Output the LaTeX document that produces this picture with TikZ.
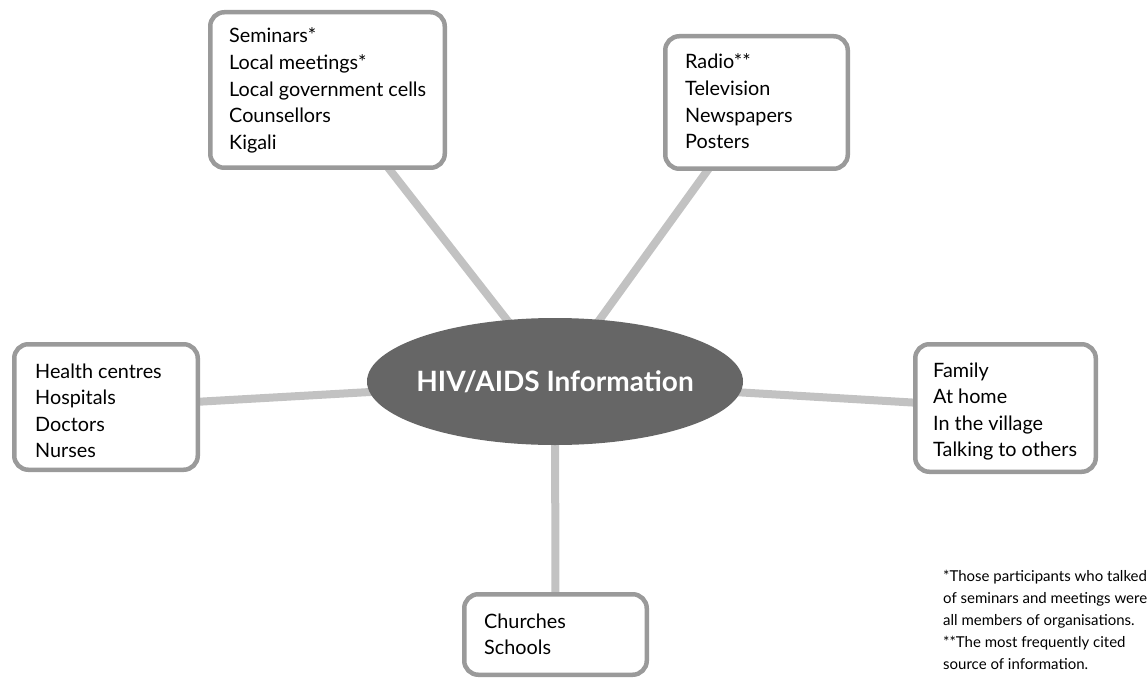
\documentclass[tikz,border=0pt]{standalone}
\usepackage{fontspec}
\setmainfont{Lato}
\usetikzlibrary{backgrounds,shapes.geometric}
\definecolor{boxgray}{HTML}{9A9A9A}
\definecolor{linegray}{HTML}{C2C2C2}
\definecolor{ellgray}{HTML}{666666}
\tikzset{
  infobox/.style={draw=boxgray, line width=4.5pt, rounded corners=14pt, fill=white,
    inner sep=0pt, anchor=center},
  boxtext/.style={align=left, anchor=base west, inner sep=0pt,
    font=\fontsize{19.8}{26.6}\selectfont},
  conn/.style={draw=linegray, line width=8pt},
  hub/.style={ellipse, fill=ellgray, inner sep=0pt,
    minimum width=376pt, minimum height=127pt},
  hubtext/.style={text=white, inner sep=0pt, font=\fontsize{28}{32}\selectfont\bfseries},
  note/.style={align=left, anchor=base west, inner sep=0pt, font=\fontsize{15}{22}\selectfont}
}
\begin{document}
\begin{tikzpicture}[x=1pt,y=-1pt]
\useasboundingbox (0,0) rectangle (1147,679);
\node[hub] (hub) at (555,381.5) {};
\node[hubtext] (hubtext) at (hub.center) {HIV/AIDS Information};
\node[infobox, minimum width=234.5pt, minimum height=155.5pt] (tl) at (327.5,90) {};
\node[infobox, minimum width=182.5pt, minimum height=132.5pt] (tr) at (756.5,102.5) {};
\node[infobox, minimum width=183.5pt, minimum height=125.5pt] (lf) at (106,407) {};
\node[infobox, minimum width=180.5pt, minimum height=127.5pt] (rt) at (1005.5,408) {};
\node[infobox, minimum width=182.5pt, minimum height=80.5pt] (bt) at (555.5,634.5) {};
\node[boxtext] (tltext) at (229,149.4) {Seminars*\\Local meetings*\\Local government cells\\Counsellors\\Kigali};
\node[boxtext] (trtext) at (685,148.8) {Radio**\\Television\\Newspapers\\Posters};
\node[boxtext] (lftext) at (35,457.8) {Health centres\\Hospitals\\Doctors\\Nurses};
\node[boxtext] (rttext) at (933,456.8) {Family\\At home\\In the village\\Talking to others};
\node[boxtext] (bttext) at (484,654.6) {Churches\\Schools};
\begin{scope}[on background layer]
\draw[conn] (tl.center) -- (hub.center);
\draw[conn] (tr.center) -- (hub.center);
\draw[conn] (lf.center) -- (hub.center);
\draw[conn] (rt.center) -- (hub.center);
\draw[conn] (bt.center) -- (hub.center);
\end{scope}
\node[note] (fn) at (943,669) {*Those participants who talked\\of seminars and meetings were\\all members of organisations.\\**The most frequently cited\\source of information.};
\end{tikzpicture}
\end{document}
